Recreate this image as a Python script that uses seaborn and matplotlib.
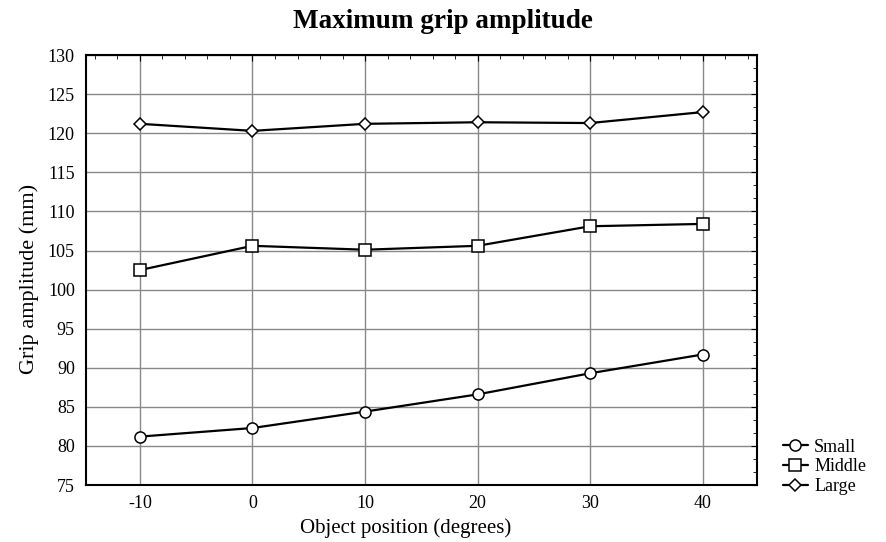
import pandas as pd
import seaborn as sns
import matplotlib.pyplot as plt
from matplotlib.ticker import MultipleLocator

# Datos
posiciones = [-10, 0, 10, 20, 30, 40]
small = [81.2, 82.3, 84.4, 86.6, 89.3, 91.7]
middle = [102.5, 105.6, 105.1, 105.6, 108.1, 108.4]
large = [121.2, 120.3, 121.2, 121.4, 121.3, 122.7]
series = ['Small', 'Middle', 'Large']
marcadores = {'Small': 'o', 'Middle': 's', 'Large': 'D'}
tamanos = {'Small': 8, 'Middle': 8, 'Large': 6}

df = pd.DataFrame({
    'pos': posiciones * 3,
    'valor': small + middle + large,
    'grupo': [s for s in series for _ in posiciones],
})

sns.set_style('white')
plt.rcParams['font.family'] = ['Liberation Serif', 'DejaVu Serif']
plt.rcParams['text.color'] = 'black'
plt.rcParams['axes.labelcolor'] = 'black'
plt.rcParams['axes.unicode_minus'] = False

fig = plt.figure(figsize=(8.86, 5.42), dpi=100)
ax = fig.add_axes([0.097, 0.105, 0.757, 0.7935])

for g in series:
    sns.lineplot(data=df[df['grupo'] == g], x='pos', y='valor', ax=ax,
                 color='black', linewidth=1.6, marker=marcadores[g],
                 markersize=tamanos[g], markerfacecolor='white',
                 markeredgecolor='black', markeredgewidth=1.1,
                 label=g, zorder=3)

ax.set_xlim(-14.8, 44.8)
ax.set_ylim(75, 130)
ax.set_xticks(posiciones)
ax.set_yticks(range(75, 131, 5))
ax.xaxis.set_minor_locator(MultipleLocator(2))
ax.yaxis.set_minor_locator(MultipleLocator(5 / 3))
ax.grid(True, which='major', color='#888888', linewidth=1.0)
ax.tick_params(direction='in', which='both', top=True, right=True,
               labelsize=13, colors='black')
ax.tick_params(which='major', length=4)
ax.tick_params(which='minor', length=3)
ax.tick_params(axis='y', pad=8)
ax.tick_params(axis='x', pad=7)
for s in ax.spines.values():
    s.set_color('black')
    s.set_linewidth(1.5)

fig.suptitle('Maximum grip amplitude', fontsize=19.5, fontweight='bold',
             x=0.5, y=0.984, color='black')
ax.set_xlabel('Object position (degrees)', fontsize=15, x=0.477, labelpad=5)
ax.set_ylabel('Grip amplitude (mm)', fontsize=16, y=0.479, labelpad=6)

ax.legend(loc='upper left', bbox_to_anchor=(1.028, 0.125), frameon=False,
          fontsize=13, handlelength=1.4, handletextpad=0.35,
          labelspacing=0.15, borderaxespad=0)

plt.savefig('out.png', dpi=100)
